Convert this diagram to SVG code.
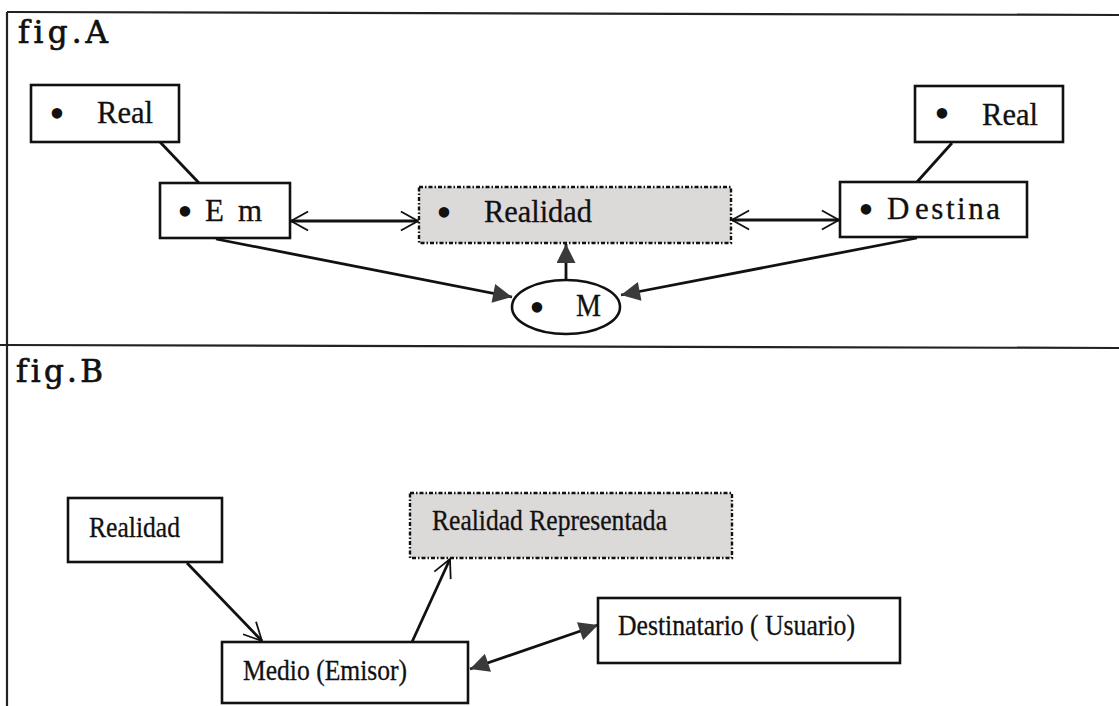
<svg xmlns="http://www.w3.org/2000/svg" width="1119" height="706" viewBox="0 0 1119 706">
<style>
.box{fill:#fff;stroke:#111;stroke-width:2.6}
.dbox{fill:#dcd9d9;stroke:#111;stroke-width:2.4;stroke-dasharray:4 2 1.5 2}
.t{font-family:"Liberation Serif","Times New Roman",serif;font-size:31px;fill:#111;stroke:#111;stroke-width:0.3}
.tb{font-family:"Liberation Serif","Times New Roman",serif;font-size:29px;fill:#111;stroke:#111;stroke-width:0.3}
.bul{font-family:"Liberation Serif","Times New Roman",serif;font-size:44px;fill:#111;text-anchor:middle}
.fig{font-family:"DejaVu Serif","Liberation Serif",serif;font-size:31px;fill:#111;stroke:#111;stroke-width:0.7;font-variant-ligatures:none}
.ln{stroke:#111;stroke-width:2.8;fill:none}
.frame{stroke:#222;stroke-width:2.2;fill:none}
</style>
<defs>
<marker id="open" viewBox="0 0 20 22" refX="19" refY="11" markerWidth="19" markerHeight="22" markerUnits="userSpaceOnUse" orient="auto-start-reverse">
<path d="M1,1 L19,11 L1,21" fill="none" stroke="#111" stroke-width="2"/>
</marker>
<marker id="openB" viewBox="0 0 20 22" refX="19" refY="11" markerWidth="20" markerHeight="22" markerUnits="userSpaceOnUse" orient="auto-start-reverse">
<path d="M1,2 L19,11 L1,20" fill="none" stroke="#111" stroke-width="1.8"/>
</marker>
<marker id="fill" viewBox="0 0 20 20" refX="20" refY="10" markerWidth="20" markerHeight="19" markerUnits="userSpaceOnUse" orient="auto-start-reverse">
<path d="M0,0 L20,10 L0,20 Z" fill="#3a3a3a"/>
</marker>
</defs>

<g id="frame">
<line class="frame" x1="7" y1="12" x2="1119" y2="15"/>
<line class="frame" x1="0" y1="345" x2="1119" y2="348"/>
<line class="frame" x1="7" y1="12" x2="7" y2="706"/>
<text class="fig" x="18" y="43" textLength="90" lengthAdjust="spacing">fig.A</text>
<text class="fig" x="16" y="382" textLength="87" lengthAdjust="spacing">fig.B</text>
</g>

<g id="connectors">
<line class="ln" x1="160" y1="142" x2="199" y2="183"/>
<line class="ln" x1="952" y1="143" x2="917" y2="182"/>
<line class="ln" x1="291" y1="221" x2="418" y2="221" stroke-width="2.2" marker-start="url(#open)" marker-end="url(#open)"/>
<line class="ln" x1="732" y1="220" x2="839" y2="220" stroke-width="2.2" marker-start="url(#open)" marker-end="url(#open)"/>
<line class="ln" x1="216" y1="239" x2="512" y2="297" marker-end="url(#fill)"/>
<line class="ln" x1="917" y1="238" x2="621" y2="295" marker-end="url(#fill)"/>
<line class="ln" x1="566" y1="280" x2="566" y2="244" marker-end="url(#fill)"/>
<line class="ln" x1="187" y1="563" x2="262" y2="641" marker-end="url(#openB)"/>
<line class="ln" x1="412" y1="642" x2="450" y2="559" marker-end="url(#openB)"/>
<line class="ln" x1="470" y1="669" x2="598" y2="625" marker-start="url(#fill)" marker-end="url(#fill)"/>
</g>

<g id="real-left">
<rect class="box" x="31" y="85" width="148" height="57"/>
<text class="bul" x="57" y="128">•</text>
<text class="t" x="97" y="123" textLength="56" lengthAdjust="spacingAndGlyphs">Real</text>
</g>
<g id="emisor">
<rect class="box" x="160" y="183" width="130" height="55"/>
<text class="bul" x="185" y="226">•</text>
<text class="t" y="221"><tspan x="205">E</tspan><tspan x="238">m</tspan></text>
</g>
<g id="realidad-a">
<rect class="dbox" x="419" y="187" width="312" height="56"/>
<text class="bul" x="444" y="227">•</text>
<text class="t" x="484" y="222" textLength="108" lengthAdjust="spacingAndGlyphs">Realidad</text>
</g>
<g id="real-right">
<rect class="box" x="915" y="86" width="148" height="56"/>
<text class="bul" x="942" y="128">•</text>
<text class="t" x="982" y="125" textLength="56" lengthAdjust="spacingAndGlyphs">Real</text>
</g>
<g id="destina">
<rect class="box" x="840" y="182" width="187" height="55"/>
<text class="bul" x="866" y="224">•</text>
<text class="t" y="219"><tspan x="887">D</tspan><tspan x="915" textLength="85" lengthAdjust="spacing">estina</tspan></text>
</g>
<g id="medio-a">
<ellipse class="box" cx="566" cy="307" rx="54" ry="27"/>
<text class="bul" x="537" y="322">•</text>
<text class="t" x="576" y="316" textLength="25" lengthAdjust="spacingAndGlyphs">M</text>
</g>

<g id="realidad-b">
<rect class="box" x="68" y="498" width="154" height="64"/>
<text class="tb" x="89" y="537" textLength="91" lengthAdjust="spacingAndGlyphs">Realidad</text>
</g>
<g id="realidad-representada">
<rect class="dbox" x="410" y="493" width="322" height="65"/>
<text class="tb" x="432" y="530" textLength="235" lengthAdjust="spacingAndGlyphs">Realidad Representada</text>
</g>
<g id="medio-emisor">
<rect class="box" x="222" y="642" width="246" height="61"/>
<text class="tb" x="243" y="680" textLength="164" lengthAdjust="spacingAndGlyphs">Medio (Emisor)</text>
</g>
<g id="destinatario">
<rect class="box" x="598" y="598" width="302" height="65"/>
<text class="tb" x="618" y="635" textLength="237" lengthAdjust="spacingAndGlyphs">Destinatario ( Usuario)</text>
</g>
</svg>
